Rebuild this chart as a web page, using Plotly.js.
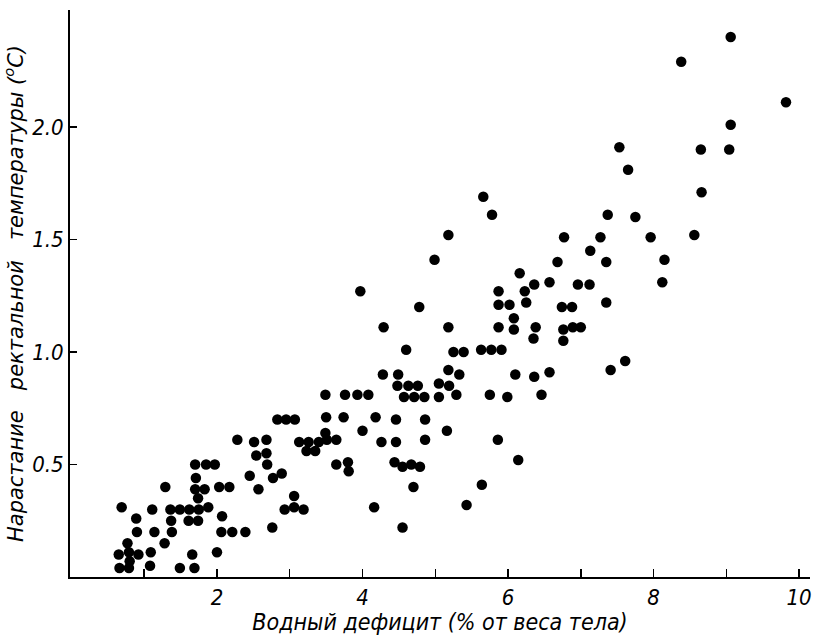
<!DOCTYPE html>
<html><head><meta charset="utf-8">
<script src="https://cdn.plot.ly/plotly-3.0.1.min.js"></script>
<style>body{margin:0;background:#fff}#c{width:817px;height:635px}</style>
</head><body><div id="c"></div>
<script>
// Water deficit (% of body weight)
const deficitX = [
 1.70,1.71,1.29,1.70,1.74,0.69,1.11,1.36,1.49,1.62,1.75,0.89,1.37,1.61,1.74,0.90,1.14,1.38,0.77,1.28,
 0.65,0.79,0.92,1.09,1.66,0.80,0.66,0.79,1.08,1.49,1.69,
 3.49,2.83,2.95,3.07,3.50,3.49,2.28,2.51,2.68,3.13,3.26,3.40,3.51,3.64,3.23,3.35,2.54,2.68,2.69,3.64,
 1.85,1.97,2.45,2.77,2.89,2.57,2.17,2.03,1.83,3.06,2.93,3.06,3.19,1.88,2.07,2.76,2.06,2.21,2.39,2.00,
 4.99,5.18,3.97,4.78,4.29,5.18,4.60,5.25,4.28,4.49,5.18,4.48,4.63,4.76,5.05,5.19,3.76,3.93,4.08,4.57,
 4.71,4.85,5.05,5.29,3.74,4.18,4.46,4.86,4.00,5.16,4.26,4.46,4.86,3.80,3.81,4.44,4.55,4.67,4.79,4.70,
 4.16,4.55,
 5.66,5.78,6.77,6.68,6.16,6.36,6.57,6.96,5.87,6.23,5.87,6.02,6.25,6.74,6.88,6.08,5.87,6.08,6.38,6.35,
 6.76,6.89,6.76,5.39,5.63,5.77,5.91,5.33,6.10,6.36,6.57,5.75,5.99,6.46,5.86,6.14,5.64,5.43,
 9.06,8.38,9.82,9.06,7.53,8.65,9.04,7.65,8.66,7.37,7.75,7.27,7.96,8.56,7.13,7.35,8.15,8.12,7.12,7.35,
 7.00,7.41,7.61
];
// Rise of rectal temperature (°C)
const tempRise = [
 0.50,0.44,0.40,0.39,0.35,0.31,0.30,0.30,0.30,0.30,0.30,0.26,0.25,0.25,0.25,0.20,0.20,0.20,0.15,0.15,
 0.10,0.11,0.10,0.11,0.10,0.07,0.04,0.04,0.05,0.04,0.04,
 0.81,0.70,0.70,0.70,0.71,0.64,0.61,0.60,0.61,0.60,0.60,0.60,0.61,0.61,0.56,0.56,0.54,0.55,0.50,0.50,
 0.50,0.50,0.45,0.44,0.46,0.39,0.40,0.40,0.39,0.36,0.30,0.31,0.30,0.31,0.27,0.22,0.20,0.20,0.20,0.11,
 1.41,1.52,1.27,1.20,1.11,1.11,1.01,1.00,0.90,0.90,0.92,0.85,0.85,0.85,0.86,0.85,0.81,0.81,0.81,0.80,
 0.80,0.80,0.80,0.81,0.71,0.71,0.70,0.70,0.65,0.65,0.60,0.60,0.61,0.51,0.47,0.51,0.49,0.50,0.49,0.40,
 0.31,0.22,
 1.69,1.61,1.51,1.40,1.35,1.30,1.31,1.30,1.27,1.27,1.21,1.21,1.22,1.20,1.20,1.15,1.11,1.10,1.11,1.06,
 1.10,1.11,1.05,1.00,1.01,1.01,1.01,0.90,0.90,0.89,0.91,0.81,0.80,0.81,0.61,0.52,0.41,0.32,
 2.40,2.29,2.11,2.01,1.91,1.90,1.90,1.81,1.71,1.61,1.60,1.51,1.51,1.52,1.45,1.40,1.41,1.31,1.30,1.22,
 1.11,0.92,0.96
];
const xTickVals = [2,4,6,8,10];
const xTickText = ["2","4","6","8","10"];
const xMinorTickVals = [1,3,5,7,9];
const yTickVals = [0.5,1.0,1.5,2.0];
const yTickText = ["0.5","1.0","1.5","2.0"];
const xTitle = "Водный дефицит (% от веса тела)";
const yTitle = "Нарастание\u00A0\u00A0\u00A0ректальной\u00A0\u00A0\u00A0температуры (<sup>o</sup>C)";

const fam = "DejaVu Sans Condensed, sans-serif";
const famWide = "DejaVu Sans, sans-serif";
Plotly.newPlot('c', [{
  x: deficitX, y: tempRise, type: 'scatter', mode: 'markers',
  marker: {color: '#000', size: 10.5, line: {width: 0}},
  hoverinfo: 'x+y'
}], {
  width: 817, height: 635,
  margin: {l: 70, r: 7, t: 10, b: 58},
  paper_bgcolor: '#fff', plot_bgcolor: '#fff',
  showlegend: false,
  font: {family: fam, color: '#000', style: 'italic'},
  xaxis: {
    range: [-0.02, 10.15], showgrid: false, zeroline: false,
    showline: true, linecolor: '#000', linewidth: 2,
    ticks: 'inside', ticklen: 8, tickwidth: 1.5, tickcolor: '#000',
    tickvals: xTickVals, ticktext: xTickText,
    minor: {tickvals: xMinorTickVals, ticks: 'inside', ticklen: 8, tickwidth: 1.5, tickcolor: '#000', showgrid: false},
    tickfont: {family: fam, size: 22, style: 'italic', color: '#000'},
    automargin: false,
    title: {text: xTitle, font: {family: fam, size: 23, style: 'italic', color: '#000'}, standoff: 4}
  },
  yaxis: {
    range: [0, 2.52], showgrid: false, zeroline: false,
    showline: true, linecolor: '#000', linewidth: 2,
    ticks: 'inside', ticklen: 7, tickwidth: 1.5, tickcolor: '#000',
    tickvals: yTickVals, ticktext: yTickText,
    tickfont: {family: fam, size: 22, style: 'italic', color: '#000'},
    automargin: false,
    title: {text: yTitle, font: {family: famWide, size: 21, style: 'italic', color: '#000'}, standoff: 8}
  }
}, {displayModeBar: false, staticPlot: true});
</script></body></html>
